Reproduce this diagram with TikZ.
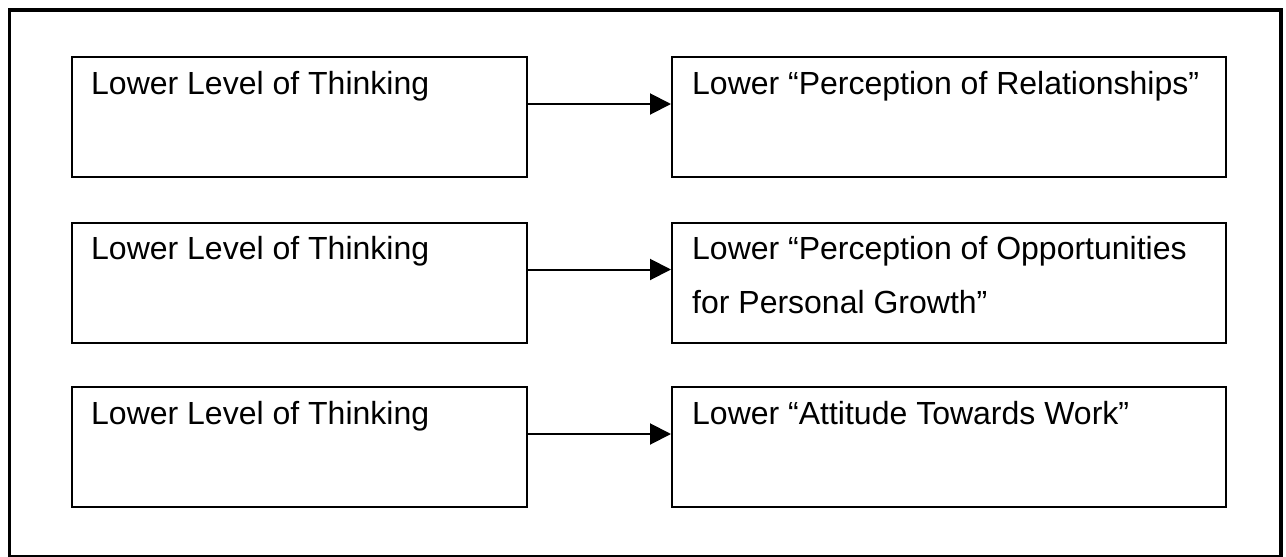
\documentclass[tikz,border=0pt]{standalone}
\usepackage{fontspec}
\setmainfont{Liberation Sans}
\usetikzlibrary{arrows.meta}

\tikzset{
  frame/.style={draw=black, line width=3.5pt},
  box/.style={draw=black, line width=2pt, rectangle, inner sep=0pt,
              minimum height=120pt},
  leftbox/.style={box, minimum width=455pt},
  rightbox/.style={box, minimum width=554pt},
  boxtext/.style={anchor=base west, inner sep=0pt, align=left,
                  font=\fontsize{32}{54}\selectfont},
  conn/.style={draw=black, line width=2pt,
               -{Triangle[length=21pt,width=21pt]}}
}

\begin{document}
\begin{tikzpicture}[x=1pt, y=-1pt]
  \useasboundingbox (0,0) rectangle (1286,557);

  % outer frame
  \draw[frame] (9.5,10) rectangle (1281,556.5);

  % left column: causes
  \node[leftbox] (l1) at (299.5,117) {};
  \node[leftbox] (l2) at (299.5,282.5) {};
  \node[leftbox] (l3) at (299.5,447) {};

  % right column: effects
  \node[rightbox] (r1) at (949,117) {};
  \node[rightbox] (r2) at (949,282.5) {};
  \node[rightbox] (r3) at (949,447) {};

  % texts
  \node[boxtext] (tl1) at ([xshift=20pt,yshift=-38pt]l1.north west) {Lower Level of Thinking};
  \node[boxtext] (tl2) at ([xshift=20pt,yshift=-38pt]l2.north west) {Lower Level of Thinking};
  \node[boxtext] (tl3) at ([xshift=20pt,yshift=-38pt]l3.north west) {Lower Level of Thinking};

  \node[boxtext] (tr1) at ([xshift=21pt,yshift=-38pt]r1.north west) {Lower “Perception of Relationships”};
  \node[boxtext] (tr2a) at ([xshift=21pt,yshift=-38pt]r2.north west) {Lower “Perception of Opportunities};
  \node[boxtext] (tr2b) at ([xshift=21pt,yshift=-92pt]r2.north west) {for Personal Growth”};
  \node[boxtext] (tr3) at ([xshift=21pt,yshift=-38pt]r3.north west) {Lower “Attitude Towards Work”};

  % connectors
  \draw[conn] ([yshift=-48pt]l1.north east) -- ([yshift=-48pt]r1.north west);
  \draw[conn] ([yshift=-48pt]l2.north east) -- ([yshift=-48pt]r2.north west);
  \draw[conn] ([yshift=-48pt]l3.north east) -- ([yshift=-48pt]r3.north west);
\end{tikzpicture}
\end{document}
